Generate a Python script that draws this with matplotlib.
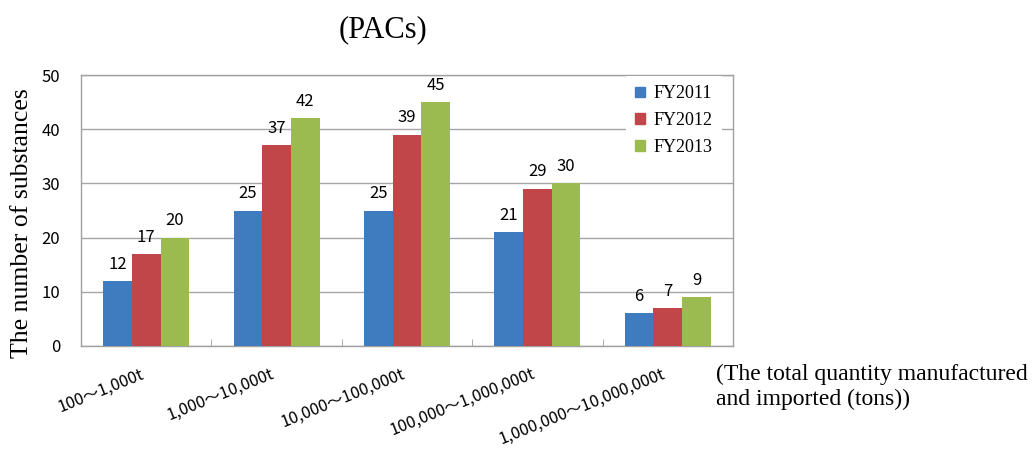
import numpy as np
import matplotlib
matplotlib.use("Agg")
import matplotlib.pyplot as plt
from matplotlib.patches import Patch

# data
categories = ["100～1,000t", "1,000～10,000t", "10,000～100,000t",
              "100,000～1,000,000t", "1,000,000～10,000,000t"]
years = ["FY2011", "FY2012", "FY2013"]
fy2011 = [12, 25, 25, 21, 6]
fy2012 = [17, 37, 39, 29, 7]
fy2013 = [20, 42, 45, 30, 9]
colors = ["#3F7CBF", "#C0464A", "#9BBB50"]

sans = ["Liberation Sans Narrow", "Noto Sans CJK JP", "DejaVu Sans"]
serif = ["Liberation Serif", "DejaVu Serif"]

fig = plt.figure(figsize=(10.35, 4.51), dpi=100)
ax = fig.add_axes([81/1035, 1-346/451, 652/1035, 271/451])

x = np.arange(len(categories))
w = 0.22
for i, (vals, c, lab) in enumerate(zip([fy2011, fy2012, fy2013], colors, years)):
    bars = ax.bar(x + (i-1)*w, vals, w, color=c, zorder=3)
    for b, v in zip(bars, vals):
        ax.annotate(str(v), (b.get_x() + b.get_width()/2, v), xytext=(0, 6),
                    textcoords="offset points", ha="center", va="bottom",
                    fontsize=12, family=sans)

ax.set_xlim(-0.5, len(categories)-0.5)
ax.set_ylim(0, 50)
ax.set_yticks(range(0, 51, 10))
ax.tick_params(axis="y", length=0, pad=15, labelsize=12)
for t in ax.get_yticklabels():
    t.set_family(sans)
ax.yaxis.grid(True, color="#A6A6A6", lw=1, zorder=0)

ax.set_xticks(x)
ax.set_xticklabels(categories, rotation=22, ha="right", fontsize=11.8, family=sans)
ax.tick_params(axis="x", which="major", length=0, pad=14)
ax.set_xticks(x[:-1] + 0.5, minor=True)
ax.tick_params(axis="x", which="minor", direction="in", length=5, color="#A0A0A0")
for s in ax.spines.values():
    s.set_color("#A0A0A0")
    s.set_linewidth(1)

handles = [Patch(color=c) for c in colors]
leg = ax.legend(handles, years, loc="upper left", bbox_to_anchor=(545/652, 0.995),
                borderaxespad=0, frameon=True, fancybox=False, edgecolor="none",
                facecolor="white", framealpha=1, handlelength=0.55, handleheight=0.55,
                handletextpad=0.5, labelspacing=0.55, borderpad=0.5,
                prop={"family": serif, "size": 13})
leg.set_zorder(5)

fig.text(383/1035, 1-30/451, "(PACs)", ha="center", va="center",
         fontsize=22, family=serif)
fig.text(22/1035, 1-223/451, "The number of substances", rotation=90,
         ha="center", va="center", fontsize=18.5, family=serif)
fig.text(716/1035, 1-364/451, "(The total quantity manufactured\nand imported (tons))",
         ha="left", va="top", fontsize=17, family=serif, linespacing=1.2)

fig.savefig("out.png", dpi=100)
